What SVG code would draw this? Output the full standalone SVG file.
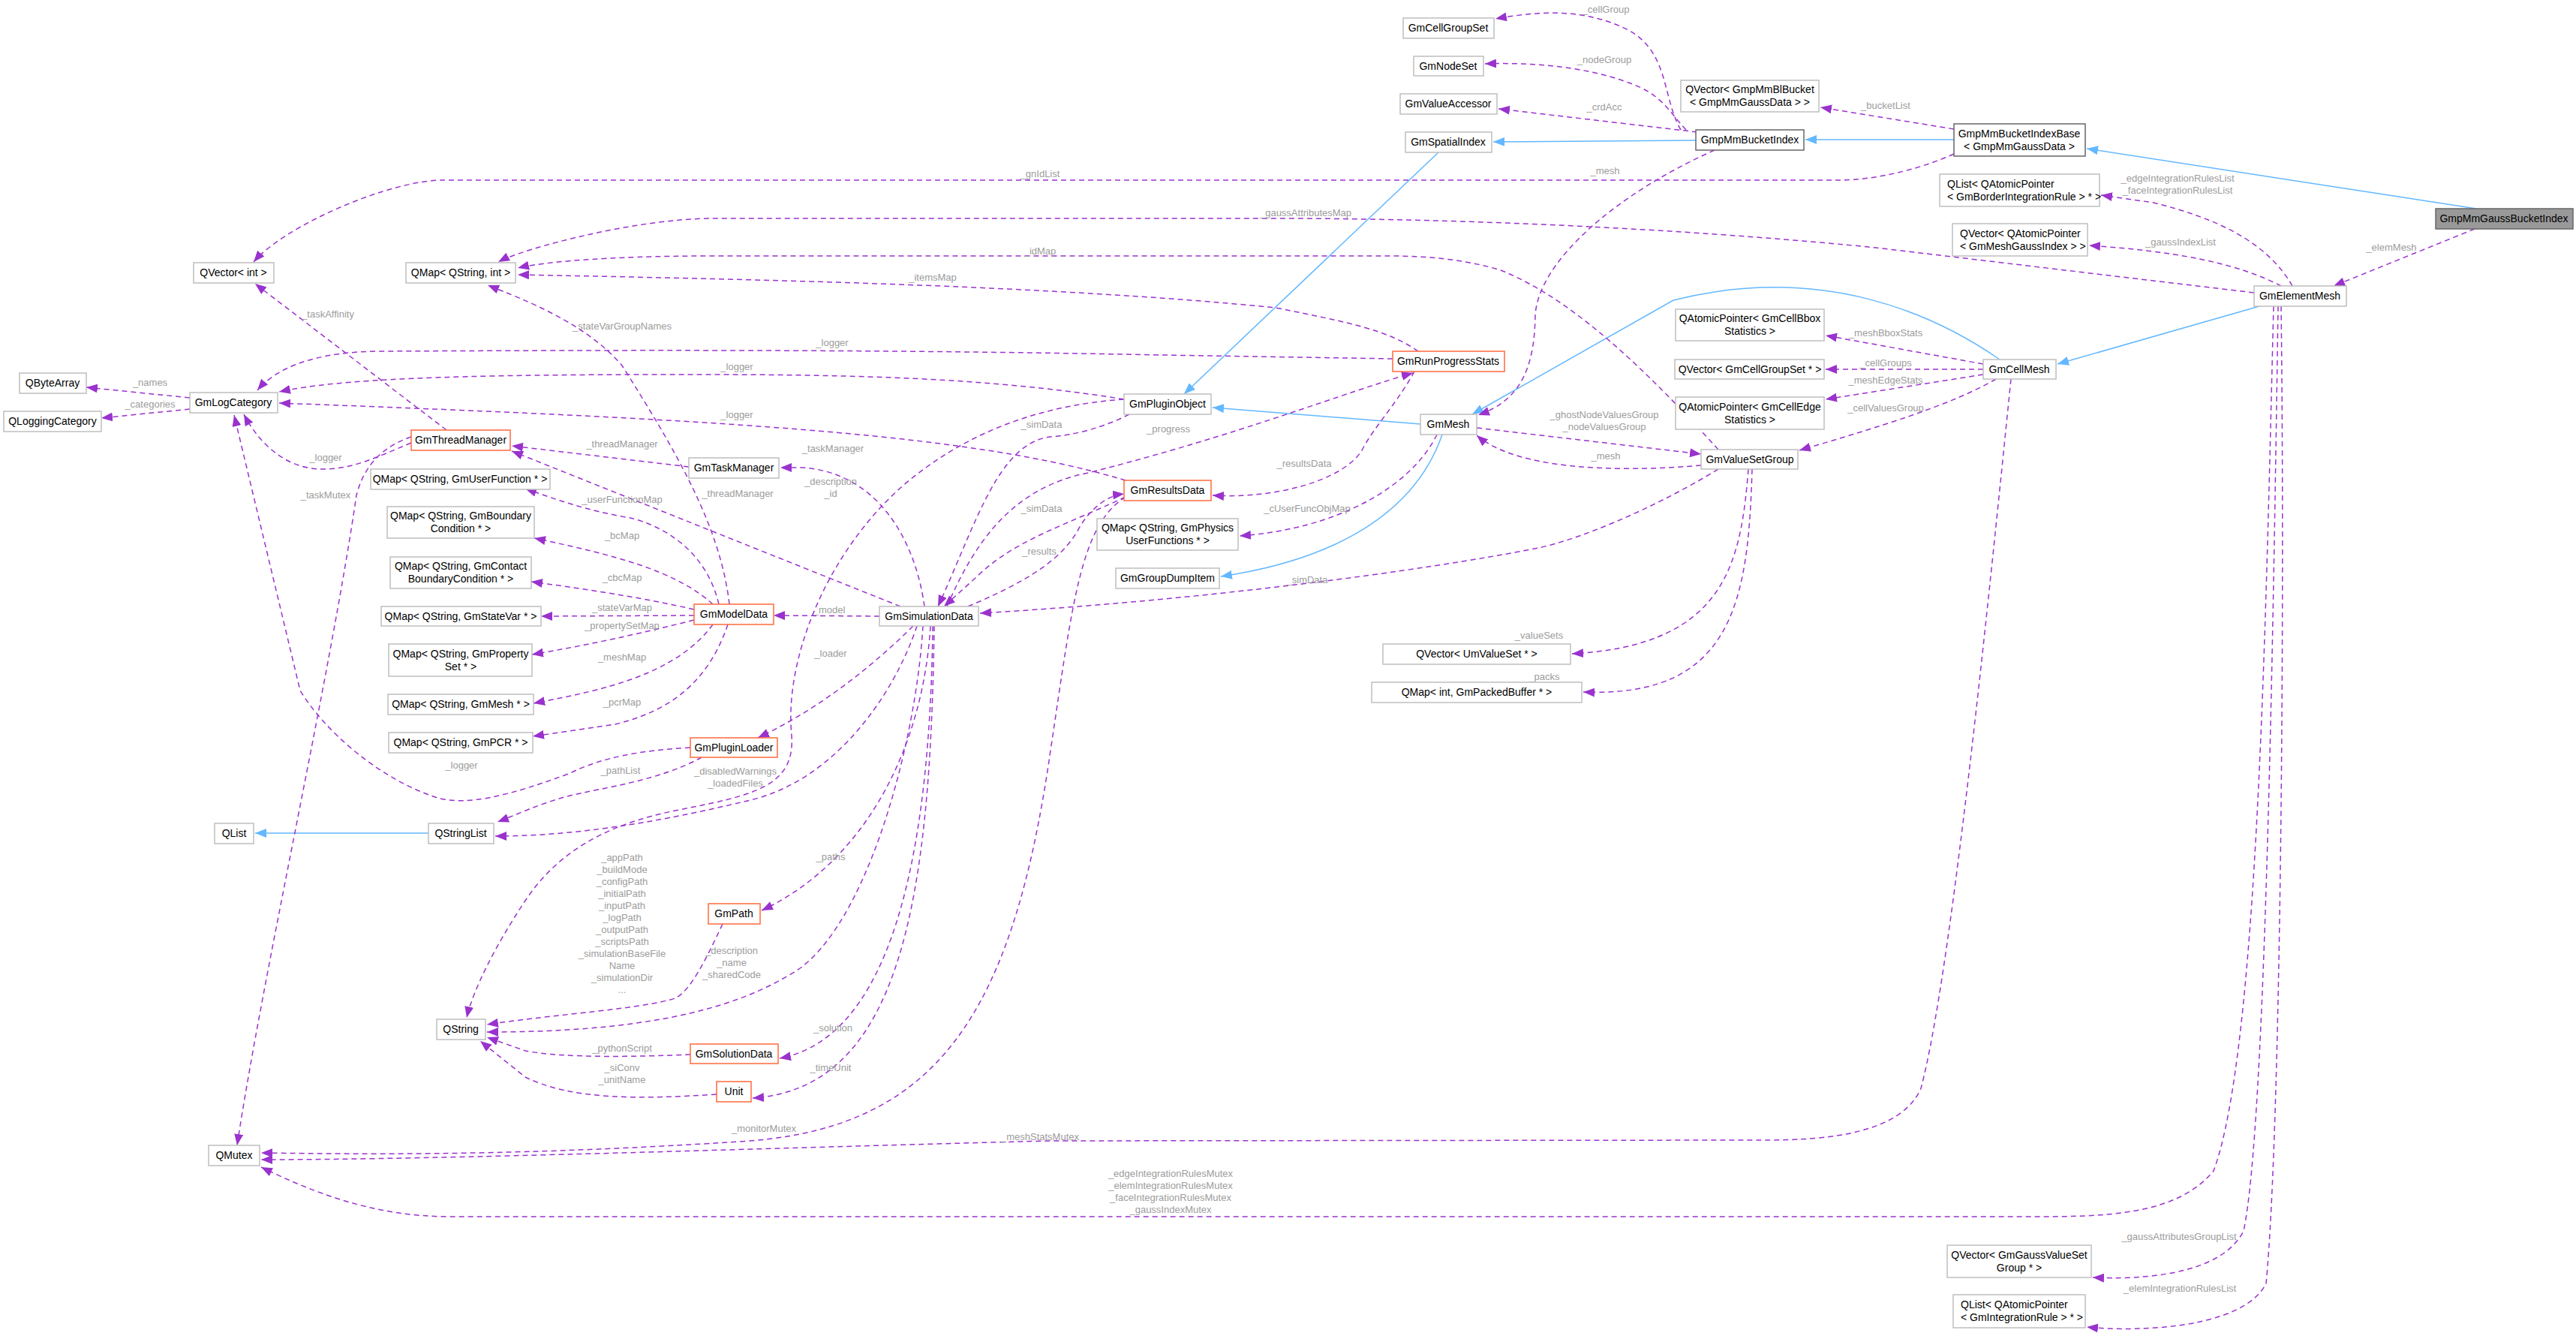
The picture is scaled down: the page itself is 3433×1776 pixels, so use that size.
<svg xmlns="http://www.w3.org/2000/svg" width="3433" height="1776" viewBox="0 0 3433 1776">
<style>
.n rect{fill:#fff;stroke:#bfbfbf;stroke-width:1.5}
.n.o rect{stroke:#ff6a3d}
.n.d rect{stroke:#666}
.n.g rect{fill:#999;stroke:#666}
.n text{font-family:"Liberation Sans",Arial,sans-serif;font-size:14px;fill:#000;text-anchor:middle}
.e path{fill:none;stroke:#9a32cd;stroke-width:1.5;stroke-dasharray:7,5;marker-end:url(#ap)}
.e path.b{stroke:#63b8ff;stroke-dasharray:none;marker-end:url(#ab)}
.e text{font-family:"Liberation Sans",Arial,sans-serif;font-size:13px;fill:#9c9c9c;text-anchor:middle}
</style>
<defs>
<marker id="ap" markerUnits="userSpaceOnUse" markerWidth="16" markerHeight="12" refX="15" refY="6" orient="auto"><path d="M0,0 L15,6 L0,12 z" fill="#9a32cd"/></marker>
<marker id="ab" markerUnits="userSpaceOnUse" markerWidth="16" markerHeight="12" refX="15" refY="6" orient="auto"><path d="M0,0 L15,6 L0,12 z" fill="#63b8ff"/></marker>
</defs>
<rect width="3433" height="1776" fill="#fff"/>
<g class="e" id="edges">
<path class="b" d="M3300,278 L2781,198"/>
<path class="b" d="M2604,186 L2406,186"/>
<path class="b" d="M2260,187 L1990,189"/>
<path class="b" d="M1917,203 L1578,525"/>
<path class="b" d="M1893,565 L1616,543"/>
<path class="b" d="M1922,579 C1880,700 1750,750 1627,768"/>
<path class="b" d="M2665,479 C2580,420 2430,350 2230,400 L1962,552"/>
<path class="b" d="M3011,408 L2742,485"/>
<path class="b" d="M571,1110 L340,1110"/>
<path d="M2240,173 C2215,130 2225,70 2170,40 C2110,10 2050,15 1993,25"/><text x="2140" y="17">_cellGroup</text>
<path d="M2247,173 C2225,150 2215,125 2170,110 C2110,88 2040,83 1979,85"/><text x="2138" y="84">_nodeGroup</text>
<path d="M2262,176 L1997,145"/><text x="2138" y="147">_crdAcc</text>
<path d="M2604,172 L2426,143"/><text x="2513" y="145">_bucketList</text>
<path d="M2285,200 C2150,260 2050,350 2046,420 C2045,500 2020,535 1970,553"/><text x="2139" y="232">_mesh</text>
<path d="M2604,205 C2560,225 2500,240 2450,240 L590,240 C520,240 380,300 338,349"/><text x="1386" y="236">_gnIdList</text>
<path d="M3004,390 L2500,330 C2300,310 2000,291 1700,291 L950,291 C850,291 700,330 664,349"/><text x="1740" y="288">_gaussAttributesMap</text>
<path d="M2290,599 C2200,500 2100,400 2000,360 C1950,345 1900,341 1850,341 L950,341 C800,341 720,350 690,357"/><text x="1386" y="339">_idMap</text>
<path d="M1890,468 C1850,440 1800,430 1700,410 C1400,380 1000,372 690,366"/><text x="1243" y="374">_itemsMap</text>
<path d="M1856,478 L1550,473 C1200,466 900,466 500,468 C400,470 360,500 343,520"/><text x="1109" y="461">_logger</text>
<path d="M1498,532 C1300,500 1100,499 900,499 C600,499 450,505 372,522"/><text x="982" y="493">_logger</text>
<path d="M1500,640 C1300,580 1000,560 372,537"/><text x="982" y="557">_logger</text>
<path d="M548,590 C500,610 470,625 430,625 C380,625 345,590 325,552"/><text x="434" y="614">_logger</text>
<path d="M920,996 C850,1000 800,1010 760,1030 C680,1060 620,1075 580,1062 C500,1035 430,970 400,920 L312,553"/><text x="615" y="1024">_logger</text>
<path d="M548,582 C510,595 485,620 475,660 C440,900 350,1300 316,1526"/><text x="434" y="664">_taskMutex</text>
<path d="M595,573 L340,378"/><text x="437" y="423">_taskAffinity</text>
<path d="M972,805 C960,700 900,600 829,487 C780,430 700,400 650,380"/><text x="829" y="439">_stateVarGroupNames</text>
<path d="M918,622 L682,594"/><text x="829" y="596">_threadManager</text>
<path d="M1200,808 L682,601"/><text x="983" y="662">_threadManager</text>
<path d="M958,805 C940,730 880,700 840,690 C780,680 740,665 700,651"/><text x="829" y="670">_userFunctionMap</text>
<path d="M950,805 C900,760 820,740 712,717"/><text x="829" y="718">_bcMap</text>
<path d="M925,812 C850,795 780,785 708,775"/><text x="829" y="774">_cbcMap</text>
<path d="M925,820 L721,821"/><text x="829" y="814">_stateVarMap</text>
<path d="M925,826 C850,845 780,860 709,872"/><text x="829" y="838">_propertySetMap</text>
<path d="M950,832 C900,900 800,920 711,937"/><text x="829" y="880">_meshMap</text>
<path d="M970,832 C940,920 880,950 820,965 L710,981"/><text x="829" y="940">_pcrMap</text>
<path d="M253,530 L115,516"/><text x="200" y="514">_names</text>
<path d="M253,545 L135,557"/><text x="200" y="543">_categories</text>
<path d="M1172,821 L1031,820"/><text x="1105" y="817">_model</text>
<path d="M1232,808 C1220,720 1170,630 1070,623 L1040,623"/><text x="1110" y="602">_taskManager</text>
<path d="M1217,834 C1150,900 1080,950 1010,983"/><text x="1107" y="875">_loader</text>
<path d="M1505,552 C1470,570 1430,580 1400,582 C1330,590 1300,700 1250,808"/><text x="1388" y="570">_simData</text>
<path d="M1500,662 C1420,700 1350,720 1300,770 L1258,808"/><text x="1388" y="682">_simData</text>
<path d="M2290,625 C2200,680 2100,720 2050,730 C1900,760 1600,800 1306,817"/><text x="1742" y="777">_simData</text>
<path d="M1262,808 C1300,720 1350,650 1450,630 C1650,580 1800,520 1883,497"/><text x="1557" y="576">_progress</text>
<path d="M1498,532 C1380,540 1280,580 1200,650 C1100,740 1045,880 1055,980 C1060,1050 1000,1060 900,1080 C800,1100 740,1140 700,1200 C660,1260 630,1320 622,1356"/><text x="1107" y="646">_description</text><text x="1107" y="662">_id</text>
<path d="M935,1009 C880,1040 800,1050 760,1060 C720,1070 690,1085 663,1095"/><text x="827" y="1031">_pathList</text>
<path d="M1222,834 C1190,930 1110,1040 1000,1066 C900,1090 780,1114 660,1114"/><text x="980" y="1032">_disabledWarnings</text><text x="980" y="1048">_loadedFiles</text>
<path d="M963,1231 C940,1280 920,1320 900,1330 C850,1345 750,1350 649,1365"/>
<text x="829" y="1147">_appPath</text><text x="829" y="1163">_buildMode</text><text x="829" y="1179">_configPath</text><text x="829" y="1195">_initialPath</text><text x="829" y="1211">_inputPath</text><text x="829" y="1227">_logPath</text><text x="829" y="1243">_outputPath</text><text x="829" y="1259">_scriptsPath</text><text x="829" y="1275">_simulationBaseFile</text><text x="829" y="1291">Name</text><text x="829" y="1307">_simulationDir</text><text x="829" y="1323">...</text>
<path d="M1230,834 C1220,1000 1150,1250 1050,1300 C950,1360 800,1375 649,1375"/><text x="975" y="1271">_description</text><text x="975" y="1287">_name</text><text x="975" y="1303">_sharedCode</text>
<path d="M920,1405 C850,1408 750,1410 700,1400 L649,1382"/><text x="829" y="1401">_pythonScript</text>
<path d="M955,1458 C850,1465 760,1465 700,1435 L640,1387"/><text x="829" y="1427">_siConv</text><text x="829" y="1443">_unitName</text>
<path d="M1240,834 C1230,1000 1150,1150 1015,1213"/><text x="1107" y="1146">_paths</text>
<path d="M1243,834 C1240,1100 1200,1380 1039,1410"/><text x="1110" y="1374">_solution</text>
<path d="M1245,834 C1240,1200 1200,1450 1003,1463"/><text x="1107" y="1427">_timeUnit</text>
<path d="M1500,662 C1440,700 1430,800 1400,1000 C1350,1350 1250,1500 1000,1520 C700,1540 500,1538 348,1536"/><text x="1018" y="1508">_monitorMutex</text>
<path d="M2680,505 C2650,800 2600,1300 2560,1450 C2530,1520 2400,1519 2341,1519 L1400,1520 C1000,1530 600,1545 348,1545"/><text x="1386" y="1519">_meshStatsMutex</text>
<path d="M3030,408 C3020,800 3010,1400 2950,1560 C2900,1621 2800,1621 2703,1621 L600,1621 C500,1621 420,1590 348,1555"/><text x="1560" y="1568">_edgeIntegrationRulesMutex</text><text x="1560" y="1584">_elemIntegrationRulesMutex</text><text x="1560" y="1600">_faceIntegrationRulesMutex</text><text x="1560" y="1616">_gaussIndexMutex</text>
<path d="M3036,408 C3030,800 3020,1500 2990,1640 C2960,1700 2850,1705 2789,1702"/><text x="2904" y="1652">_gaussAttributesGroupList</text>
<path d="M3040,408 C3045,800 3040,1500 3020,1710 C2990,1770 2850,1775 2781,1768"/><text x="2905" y="1721">_elemIntegrationRulesList</text>
<path d="M3055,381 C3020,320 2950,290 2870,270 L2800,260"/><text x="2902" y="242">_edgeIntegrationRulesList</text><text x="2902" y="258">_faceIntegrationRulesList</text>
<path d="M3040,381 C2980,350 2900,335 2784,327"/><text x="2906" y="327">_gaussIndexList</text>
<path d="M3298,305 L3110,381"/><text x="3187" y="334">_elemMesh</text>
<path d="M2643,485 L2433,447"/><text x="2513" y="448">_meshBboxStats</text>
<path d="M2643,492 L2433,492"/><text x="2513" y="488">_cellGroups</text>
<path d="M2643,499 L2433,532"/><text x="2513" y="511">_meshEdgeStats</text>
<path d="M2660,505 C2600,540 2500,570 2398,600"/><text x="2513" y="548">_cellValuesGroup</text>
<path d="M1968,570 L2267,605"/><text x="2138" y="557">_ghostNodeValuesGroup</text><text x="2138" y="573">_nodeValuesGroup</text>
<path d="M2267,620 C2150,630 2020,625 1968,580"/><text x="2140" y="612">_mesh</text>
<path d="M2330,625 C2320,750 2300,860 2095,871"/><text x="2051" y="851">_valueSets</text>
<path d="M2335,625 C2330,800 2310,930 2110,922"/><text x="2058" y="906">_packs</text>
<path d="M1885,495 C1860,540 1830,570 1815,600 C1790,640 1700,665 1616,660"/><text x="1738" y="622">_resultsData</text>
<path d="M1915,579 C1880,650 1780,705 1652,714"/><text x="1742" y="682">_cUserFuncObjMap</text>
<path d="M1290,808 C1380,770 1420,740 1440,700 C1460,670 1480,660 1498,658"/><text x="1385" y="739">_results</text>
</g>
<g id="QVectorInt" class="n"><rect x="258" y="350" width="107" height="27"/><text x="311" y="368">QVector&lt; int &gt;</text></g>
<g id="QMapStrInt" class="n"><rect x="541" y="350" width="146" height="27"/><text x="614" y="368">QMap&lt; QString, int &gt;</text></g>
<g id="QByteArray" class="n"><rect x="26" y="497" width="89" height="27"/><text x="70" y="515">QByteArray</text></g>
<g id="GmLogCategory" class="n"><rect x="253" y="523" width="117" height="27"/><text x="311" y="541">GmLogCategory</text></g>
<g id="QLoggingCategory" class="n"><rect x="5" y="548" width="130" height="27"/><text x="70" y="566">QLoggingCategory</text></g>
<g id="GmThreadManager" class="n o"><rect x="548" y="573" width="132" height="27"/><text x="614" y="591">GmThreadManager</text></g>
<g id="QMapUserFunction" class="n"><rect x="494" y="625" width="239" height="27"/><text x="613" y="643">QMap&lt; QString, GmUserFunction * &gt;</text></g>
<g id="QMapBoundary" class="n"><rect x="516" y="675" width="196" height="42"/><text x="614" y="692">QMap&lt; QString, GmBoundary</text><text x="614" y="709">Condition * &gt;</text></g>
<g id="QMapContact" class="n"><rect x="520" y="742" width="188" height="42"/><text x="614" y="759">QMap&lt; QString, GmContact</text><text x="614" y="776">BoundaryCondition * &gt;</text></g>
<g id="QMapStateVar" class="n"><rect x="508" y="808" width="213" height="26"/><text x="614" y="826">QMap&lt; QString, GmStateVar * &gt;</text></g>
<g id="QMapProperty" class="n"><rect x="518" y="858" width="191" height="43"/><text x="614" y="876">QMap&lt; QString, GmProperty</text><text x="614" y="893">Set * &gt;</text></g>
<g id="QMapMesh" class="n"><rect x="517" y="925" width="194" height="27"/><text x="614" y="943">QMap&lt; QString, GmMesh * &gt;</text></g>
<g id="QMapPCR" class="n"><rect x="518" y="976" width="192" height="27"/><text x="614" y="994">QMap&lt; QString, GmPCR * &gt;</text></g>
<g id="GmModelData" class="n o"><rect x="925" y="805" width="106" height="27"/><text x="978" y="823">GmModelData</text></g>
<g id="GmTaskManager" class="n"><rect x="918" y="610" width="120" height="27"/><text x="978" y="628">GmTaskManager</text></g>
<g id="GmPluginLoader" class="n o"><rect x="920" y="983" width="116" height="26"/><text x="978" y="1001">GmPluginLoader</text></g>
<g id="QList" class="n"><rect x="286" y="1097" width="52" height="27"/><text x="312" y="1115">QList</text></g>
<g id="QStringList" class="n"><rect x="571" y="1097" width="87" height="27"/><text x="614" y="1115">QStringList</text></g>
<g id="QString" class="n"><rect x="582" y="1358" width="65" height="27"/><text x="614" y="1376">QString</text></g>
<g id="QMutex" class="n"><rect x="278" y="1526" width="68" height="27"/><text x="312" y="1544">QMutex</text></g>
<g id="GmPath" class="n o"><rect x="944" y="1204" width="69" height="27"/><text x="978" y="1222">GmPath</text></g>
<g id="GmSolutionData" class="n o"><rect x="920" y="1391" width="117" height="26"/><text x="978" y="1409">GmSolutionData</text></g>
<g id="Unit" class="n o"><rect x="955" y="1441" width="46" height="27"/><text x="978" y="1459">Unit</text></g>
<g id="GmSimulationData" class="n"><rect x="1172" y="808" width="132" height="26"/><text x="1238" y="826">GmSimulationData</text></g>
<g id="GmPluginObject" class="n"><rect x="1498" y="525" width="116" height="27"/><text x="1556" y="543">GmPluginObject</text></g>
<g id="GmResultsData" class="n o"><rect x="1498" y="640" width="116" height="27"/><text x="1556" y="658">GmResultsData</text></g>
<g id="QMapPhysics" class="n"><rect x="1462" y="691" width="188" height="42"/><text x="1556" y="708">QMap&lt; QString, GmPhysics</text><text x="1556" y="725">UserFunctions * &gt;</text></g>
<g id="GmGroupDumpItem" class="n"><rect x="1487" y="757" width="138" height="27"/><text x="1556" y="775">GmGroupDumpItem</text></g>
<g id="GmRunProgressStats" class="n o"><rect x="1856" y="468" width="149" height="27"/><text x="1930" y="486">GmRunProgressStats</text></g>
<g id="GmCellGroupSet" class="n"><rect x="1870" y="24" width="121" height="27"/><text x="1930" y="42">GmCellGroupSet</text></g>
<g id="GmNodeSet" class="n"><rect x="1884" y="75" width="93" height="26"/><text x="1930" y="93">GmNodeSet</text></g>
<g id="GmValueAccessor" class="n"><rect x="1866" y="125" width="129" height="27"/><text x="1930" y="143">GmValueAccessor</text></g>
<g id="GmSpatialIndex" class="n"><rect x="1873" y="176" width="115" height="27"/><text x="1930" y="194">GmSpatialIndex</text></g>
<g id="GmpMmBucketIndex" class="n d"><rect x="2260" y="173" width="144" height="27"/><text x="2332" y="191">GmpMmBucketIndex</text></g>
<g id="QVectorBlBucket" class="n"><rect x="2240" y="107" width="184" height="42"/><text x="2332" y="124">QVector&lt; GmpMmBlBucket</text><text x="2332" y="141">&lt; GmpMmGaussData &gt; &gt;</text></g>
<g id="GmpMmBucketIndexBase" class="n d"><rect x="2604" y="165" width="175" height="43"/><text x="2691" y="183">GmpMmBucketIndexBase</text><text x="2691" y="200">&lt; GmpMmGaussData &gt;</text></g>
<g id="QListBorder" class="n"><rect x="2585" y="232" width="213" height="43"/><text x="2595" y="250" style="text-anchor:start">QList&lt; QAtomicPointer</text><text x="2595" y="267" style="text-anchor:start">&lt; GmBorderIntegrationRule &gt; * &gt;</text></g>
<g id="QVectorMeshGauss" class="n"><rect x="2602" y="298" width="180" height="43"/><text x="2612" y="316" style="text-anchor:start">QVector&lt; QAtomicPointer</text><text x="2612" y="333" style="text-anchor:start">&lt; GmMeshGaussIndex &gt; &gt;</text></g>
<g id="GmpMmGaussBucketIndex" class="n g"><rect x="3246" y="278" width="183" height="27"/><text x="3337" y="296">GmpMmGaussBucketIndex</text></g>
<g id="GmElementMesh" class="n"><rect x="3004" y="381" width="123" height="27"/><text x="3065" y="399">GmElementMesh</text></g>
<g id="GmCellMesh" class="n"><rect x="2643" y="479" width="97" height="26"/><text x="2691" y="497">GmCellMesh</text></g>
<g id="QAtomicCellBbox" class="n"><rect x="2233" y="412" width="198" height="42"/><text x="2332" y="429">QAtomicPointer&lt; GmCellBbox</text><text x="2332" y="446">Statistics &gt;</text></g>
<g id="QVectorCellGroupSet" class="n"><rect x="2232" y="479" width="199" height="26"/><text x="2332" y="497">QVector&lt; GmCellGroupSet * &gt;</text></g>
<g id="QAtomicCellEdge" class="n"><rect x="2233" y="529" width="198" height="43"/><text x="2332" y="547">QAtomicPointer&lt; GmCellEdge</text><text x="2332" y="564">Statistics &gt;</text></g>
<g id="GmMesh" class="n"><rect x="1893" y="552" width="75" height="27"/><text x="1930" y="570">GmMesh</text></g>
<g id="GmValueSetGroup" class="n"><rect x="2267" y="599" width="129" height="26"/><text x="2332" y="617">GmValueSetGroup</text></g>
<g id="QVectorUmValueSet" class="n"><rect x="1843" y="858" width="250" height="27"/><text x="1968" y="876">QVector&lt; UmValueSet * &gt;</text></g>
<g id="QMapPacked" class="n"><rect x="1828" y="909" width="280" height="27"/><text x="1968" y="927">QMap&lt; int, GmPackedBuffer * &gt;</text></g>
<g id="QVectorGaussVSG" class="n"><rect x="2595" y="1659" width="192" height="43"/><text x="2691" y="1677">QVector&lt; GmGaussValueSet</text><text x="2691" y="1694">Group * &gt;</text></g>
<g id="QListIntRule" class="n"><rect x="2603" y="1725" width="176" height="44"/><text x="2613" y="1743" style="text-anchor:start">QList&lt; QAtomicPointer</text><text x="2613" y="1760" style="text-anchor:start">&lt; GmIntegrationRule &gt; * &gt;</text></g>
</svg>
